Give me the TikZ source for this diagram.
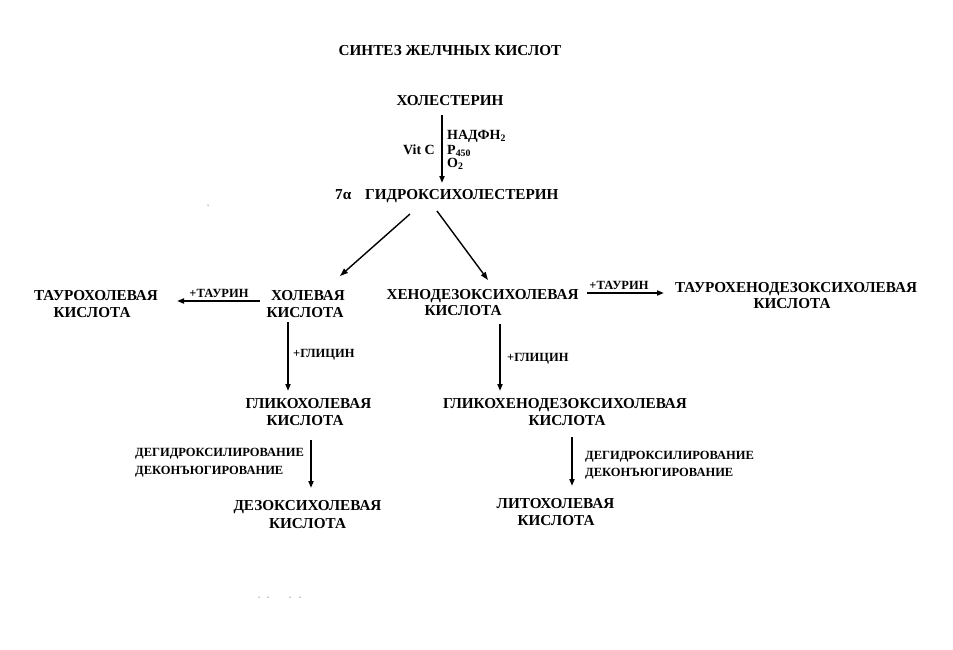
\documentclass[tikz,border=0pt]{standalone}
\usepackage{fontspec}
\setmainfont{Liberation Serif}
\usetikzlibrary{arrows.meta}
\begin{document}
\begin{tikzpicture}[x=1pt,y=-1pt,
  lbl/.style={font=\fontsize{15.2}{17}\selectfont\bfseries, inner sep=0pt, anchor=base},
  sml/.style={font=\fontsize{12.5}{14}\selectfont\bfseries, inner sep=0pt, anchor=base west},
  mid/.style={font=\fontsize{14}{16}\selectfont\bfseries, inner sep=0pt, anchor=base west},
  arr/.style={line width=2pt, -{Triangle[length=7pt,width=5pt]}},
  darr/.style={line width=1.4pt, -{Triangle[length=8pt,width=5.5pt]}},
  speck/.style={fill=black, inner sep=0pt, minimum size=1pt, circle}]
\useasboundingbox (0,0) rectangle (953,649);
\fill[white] (0,0) rectangle (953,649);

% labels
\node[lbl] (title) at (450,55) {СИНТЕЗ ЖЕЛЧНЫХ КИСЛОТ};
\node[lbl] (chol) at (450,105) {ХОЛЕСТЕРИН};
\node[mid, anchor=base east] (vitc) at (435,154) {Vit C};
\node[mid] (nadph) at (447,139) {НАДФН\textsubscript{2}};
\node[mid] (p450) at (447,154) {P\textsubscript{450}};
\node[mid] (o2) at (447,167) {O\textsubscript{2}};
\node[lbl, anchor=base west] (seven) at (335,199) {7α};
\node[lbl, anchor=base west] (hyd) at (365,199) {ГИДРОКСИХОЛЕСТЕРИН};

\node[lbl] (tau1) at (96,300) {ТАУРОХОЛЕВАЯ};
\node[lbl] (tau2) at (92,317) {КИСЛОТА};
\node[lbl] (cho1) at (308,300) {ХОЛЕВАЯ};
\node[lbl] (cho2) at (305,317) {КИСЛОТА};
\node[lbl] (che1) at (482.5,299) {ХЕНОДЕЗОКСИХОЛЕВАЯ};
\node[lbl] (che2) at (463,315) {КИСЛОТА};
\node[lbl] (tch1) at (796,292) {ТАУРОХЕНОДЕЗОКСИХОЛЕВАЯ};
\node[lbl] (tch2) at (792,308) {КИСЛОТА};

\node[lbl] (gly1) at (308.5,408) {ГЛИКОХОЛЕВАЯ};
\node[lbl] (gly2) at (305,425) {КИСЛОТА};
\node[lbl] (gch1) at (565,408) {ГЛИКОХЕНОДЕЗОКСИХОЛЕВАЯ};
\node[lbl] (gch2) at (567,425) {КИСЛОТА};
\node[lbl] (deo1) at (307.5,510) {ДЕЗОКСИХОЛЕВАЯ};
\node[lbl] (deo2) at (307.5,528) {КИСЛОТА};
\node[lbl] (lit1) at (555.5,508) {ЛИТОХОЛЕВАЯ};
\node[lbl] (lit2) at (556,525) {КИСЛОТА};

% small reaction labels
\node[sml, anchor=base] (taurL) at (219,297) {+ТАУРИН};
\node[sml, anchor=base] (taurR) at (619,289) {+ТАУРИН};
\node[sml] (glyL) at (293,357) {+ГЛИЦИН};
\node[sml] (glyR) at (507,361) {+ГЛИЦИН};
\node[sml] (dhL) at (135,456) {ДЕГИДРОКСИЛИРОВАНИЕ};
\node[sml] (dcL) at (135,474) {ДЕКОНЪЮГИРОВАНИЕ};
\node[sml] (dhR) at (585,459) {ДЕГИДРОКСИЛИРОВАНИЕ};
\node[sml] (dcR) at (585,476) {ДЕКОНЪЮГИРОВАНИЕ};

% arrow end points
\coordinate (a1s) at (442,115); \coordinate (a1e) at (442,183);
\coordinate (a2s) at (410,214); \coordinate (a2e) at (340,276);
\coordinate (a3s) at (437,211); \coordinate (a3e) at (488,280);
\coordinate (a4s) at (260,301); \coordinate (a4e) at (177,301);
\coordinate (a5s) at (288,322); \coordinate (a5e) at (288,391);
\coordinate (a6s) at (587,293); \coordinate (a6e) at (664,293);
\coordinate (a7s) at (500,324); \coordinate (a7e) at (500,391);
\coordinate (a8s) at (311,440); \coordinate (a8e) at (311,488);
\coordinate (a9s) at (572,437); \coordinate (a9e) at (572,486);

\draw[arr] (a1s) -- (a1e);
\draw[darr] (a2s) -- (a2e);
\draw[darr] (a3s) -- (a3e);
\draw[arr] (a4s) -- (a4e);
\draw[arr] (a5s) -- (a5e);
\draw[arr] (a6s) -- (a6e);
\draw[arr] (a7s) -- (a7e);
\draw[arr] (a8s) -- (a8e);
\draw[arr] (a9s) -- (a9e);

% stray specks
\node[speck] (s0) at (208,205) {};
\node[speck] (s1) at (259,597) {};
\node[speck] (s2) at (268,597) {};
\node[speck] (s3) at (290,597) {};
\node[speck] (s4) at (300,597) {};
\end{tikzpicture}
\end{document}
